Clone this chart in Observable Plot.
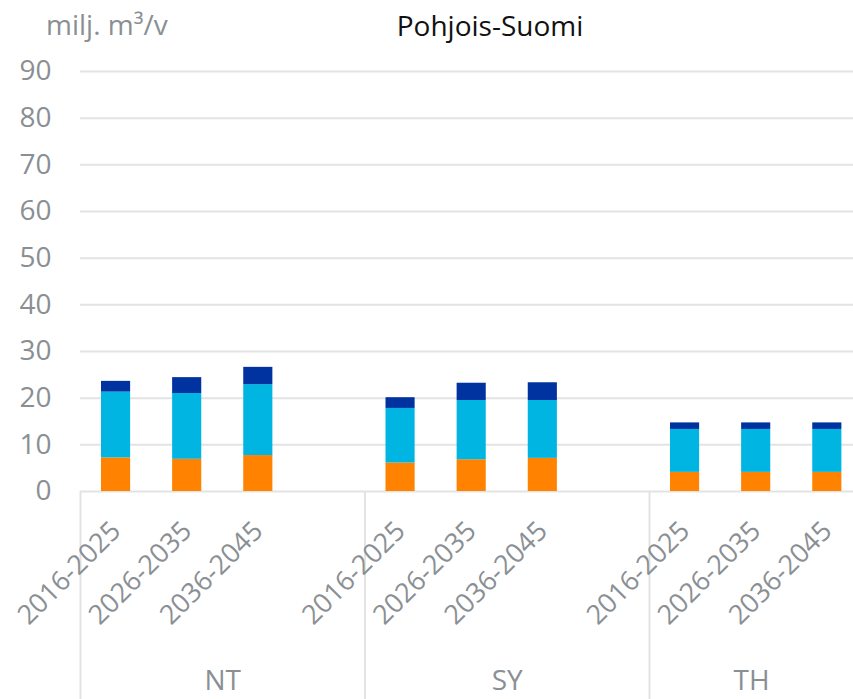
<!DOCTYPE html>
<html>
<head>
<meta charset="utf-8">
<script src="https://cdn.jsdelivr.net/npm/d3@7"></script>
<script src="https://cdn.jsdelivr.net/npm/@observablehq/plot@0.6"></script>
<style>
  body { margin: 0; background: #fff; font-family: "Open Sans", sans-serif; }
  #wrap { position: relative; width: 853px; height: 699px; overflow: hidden; }
  #wrap svg { position: absolute; left: 0; top: 0; }
  .hdr { position: absolute; font-size: 28px; line-height: 28px; white-space: nowrap; z-index: 2; }
  #unit { left: 46px; top: 10px; color: #8a8f94; }
  #title { left: 0; width: 980px; text-align: center; top: 11px; color: #111; }
</style>
</head>
<body>
<div id="wrap">
  <div id="unit" class="hdr">milj. m³/v</div>
  <div id="title" class="hdr">Pohjois-Suomi</div>
</div>
<script>
// ---- data ----
const groups = ["NT", "SY", "TH"];
const periods = ["2016-2025", "2026-2035", "2036-2045"];
const seriesNames = ["Sarja 1", "Sarja 2", "Sarja 3"];
const seriesColors = ["#FF8200", "#00B5E2", "#0033A0"];
// values per bar, order: NT(3 periods), SY(3), TH(3)
const series1 = [7.2, 6.9, 7.7, 6.1, 6.8, 7.1, 4.1, 4.1, 4.1];
const series2 = [14.1, 14.1, 15.2, 11.7, 12.7, 12.4, 9.2, 9.2, 9.2];
const series3 = [2.3, 3.4, 3.7, 2.3, 3.7, 3.8, 1.4, 1.4, 1.4];
const yTicks = [0, 10, 20, 30, 40, 50, 60, 70, 80, 90];

// ---- table ----
const slotsPerGroup = 4; // 3 periods + one empty slot
const seriesValues = [series1, series2, series3];
const rows = [];
const labels = [];
groups.forEach((g, gi) => {
  periods.forEach((p, pi) => {
    const idx = gi * periods.length + pi;
    const slot = gi * slotsPerGroup + pi;
    labels.push({group: g, period: p, slot});
    let acc = 0;
    seriesValues.forEach((vals, si) => {
      const v = vals[idx];
      rows.push({group: g, period: p, series: seriesNames[si], slot, y1: acc, y2: acc + v});
      acc += v;
    });
  });
});

const W = 853, H = 699;
const mLeft = 80, mTop = 71, mBottom = 208;
const slotPx = 71.125;
const xMax = groups.length * slotsPerGroup;
const xRangeEnd = mLeft + xMax * slotPx;
const visibleMax = xMax * (W - mLeft) / (xRangeEnd - mLeft);
const groupLabels = groups.map((g, gi) => {
  const s = gi * slotsPerGroup;
  const e = Math.min(s + slotsPerGroup, visibleMax);
  return {group: g, pos: (s + e) / 2};
});
const grey = "#8a8f94";

const chart = Plot.plot({
  width: W,
  height: H,
  marginLeft: mLeft,
  marginRight: 0,
  marginTop: mTop,
  marginBottom: mBottom,
  style: {fontFamily: "'Open Sans', sans-serif", background: "transparent", overflow: "hidden"},
  x: {type: "linear", domain: [0, xMax], range: [mLeft, xRangeEnd], axis: null},
  y: {domain: [0, 90], axis: null},
  color: {domain: seriesNames, range: seriesColors},
  marks: [
    Plot.ruleY(yTicks, {stroke: "#e3e3e3", strokeWidth: 2}),
    Plot.rectY(rows, {
      x1: "slot", x2: d => d.slot + 1, y1: "y1", y2: "y2", fill: "series",
      insetLeft: 21, insetRight: 21
    }),
    Plot.axisX({
      ticks: groups.map((g, gi) => gi * slotsPerGroup),
      tickSize: 208, tickFormat: () => "", stroke: "#e3e3e3", strokeWidth: 2, label: null
    }),
    Plot.text(yTicks, {
      y: d => d, frameAnchor: "left", textAnchor: "end", dx: -29,
      text: d => String(d), fontSize: 28, fill: grey
    }),
    Plot.text(labels, {
      x: d => d.slot + 0.5, frameAnchor: "bottom", text: "period",
      rotate: -45, textAnchor: "end", lineAnchor: "middle",
      dx: 0, dy: 35, fontSize: 27, fill: grey
    }),
    Plot.text(groupLabels, {
      x: "pos", frameAnchor: "bottom", text: "group", lineAnchor: "middle",
      dy: 190, fontSize: 28, fill: grey
    })
  ]
});
document.getElementById("wrap").appendChild(chart);
</script>
</body>
</html>
